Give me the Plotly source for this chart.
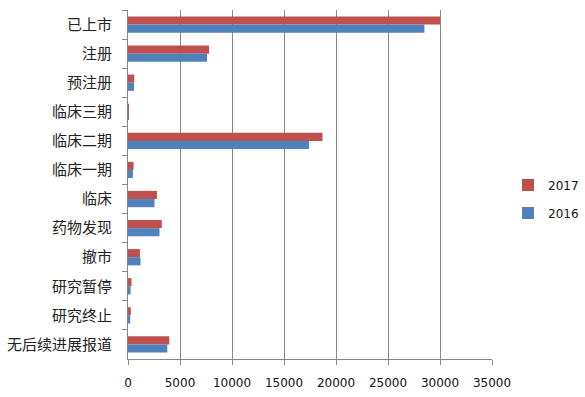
import plotly.graph_objects as go

categories = ["已上市", "注册", "预注册", "临床三期", "临床二期", "临床一期", "临床",
              "药物发现", "撤市", "研究暂停", "研究终止", "无后续进展报道"]
values_2017 = [30000, 7800, 600, 60, 18700, 530, 2780, 3250, 1150, 340, 270, 3970]
values_2016 = [28500, 7600, 580, 40, 17400, 470, 2550, 3030, 1200, 250, 210, 3780]
x_ticks = [0, 5000, 10000, 15000, 20000, 25000, 30000, 35000]

RED = "#C0504D"
BLUE = "#4F81BD"
GRID = "#878787"

W, H = 585, 397
PLOT_L, PLOT_R, PLOT_T, PLOT_B = 128, 492, 10, 359   # page pixels
L, R, T, B = PLOT_L, W - PLOT_R, PLOT_T, H - PLOT_B
pw = W - L - R
ph = H - T - B

def lx(px):
    return (px - L) / pw

def ly(py):
    return (H - B - py) / ph

fig = go.Figure()
fig.add_trace(go.Bar(y=categories, x=values_2017, name="2017", orientation="h",
                     marker=dict(color=RED, line=dict(width=0)), legend="legend"))
fig.add_trace(go.Bar(y=categories, x=values_2016, name="2016", orientation="h",
                     marker=dict(color=BLUE, line=dict(width=0)), legend="legend2"))

legend_font = dict(size=12, family="DejaVu Sans", color="#111")
fig.update_layout(
    width=W, height=H,
    margin=dict(l=L, r=R, t=T, b=B, autoexpand=False),
    paper_bgcolor="white", plot_bgcolor="white",
    barmode="group", bargap=0.44, bargroupgap=0,
    font=dict(family="DejaVu Sans", color="#222"),
    showlegend=True,
    legend=dict(x=lx(584), y=ly(185), xanchor="right", yanchor="middle",
                font=legend_font, bgcolor="rgba(0,0,0,0)"),
    legend2=dict(x=lx(584), y=ly(213), xanchor="right", yanchor="middle",
                 font=legend_font, bgcolor="rgba(0,0,0,0)"),
    xaxis=dict(range=[0, 35000], tickvals=x_ticks, ticktext=[str(v) for v in x_ticks],
               showgrid=True, gridcolor=GRID, gridwidth=1,
               showline=True, linecolor=GRID, linewidth=1,
               ticks="outside", ticklen=5, tickcolor=GRID,
               tickfont=dict(size=12, family="DejaVu Sans", color="#111"),
               zeroline=False, ticklabelstandoff=8, fixedrange=True),
    yaxis=dict(categoryorder="array", categoryarray=categories, autorange="reversed",
               showgrid=False, showline=True, linecolor=GRID, linewidth=1,
               ticks="outside", ticklen=5, tickcolor=GRID, tickson="boundaries",
               tickfont=dict(size=15, family="Noto Sans CJK SC", color="#222"),
               ticklabelstandoff=12, fixedrange=True),
)

# remove the default page margin and scrollbars so the 585x397 figure fills the window
fig.write_html(
    "out.html",
    config={"displayModeBar": False},
    post_script="document.body.style.margin='0';"
                "document.documentElement.style.overflow='hidden';"
                "document.body.style.overflow='hidden';",
)
